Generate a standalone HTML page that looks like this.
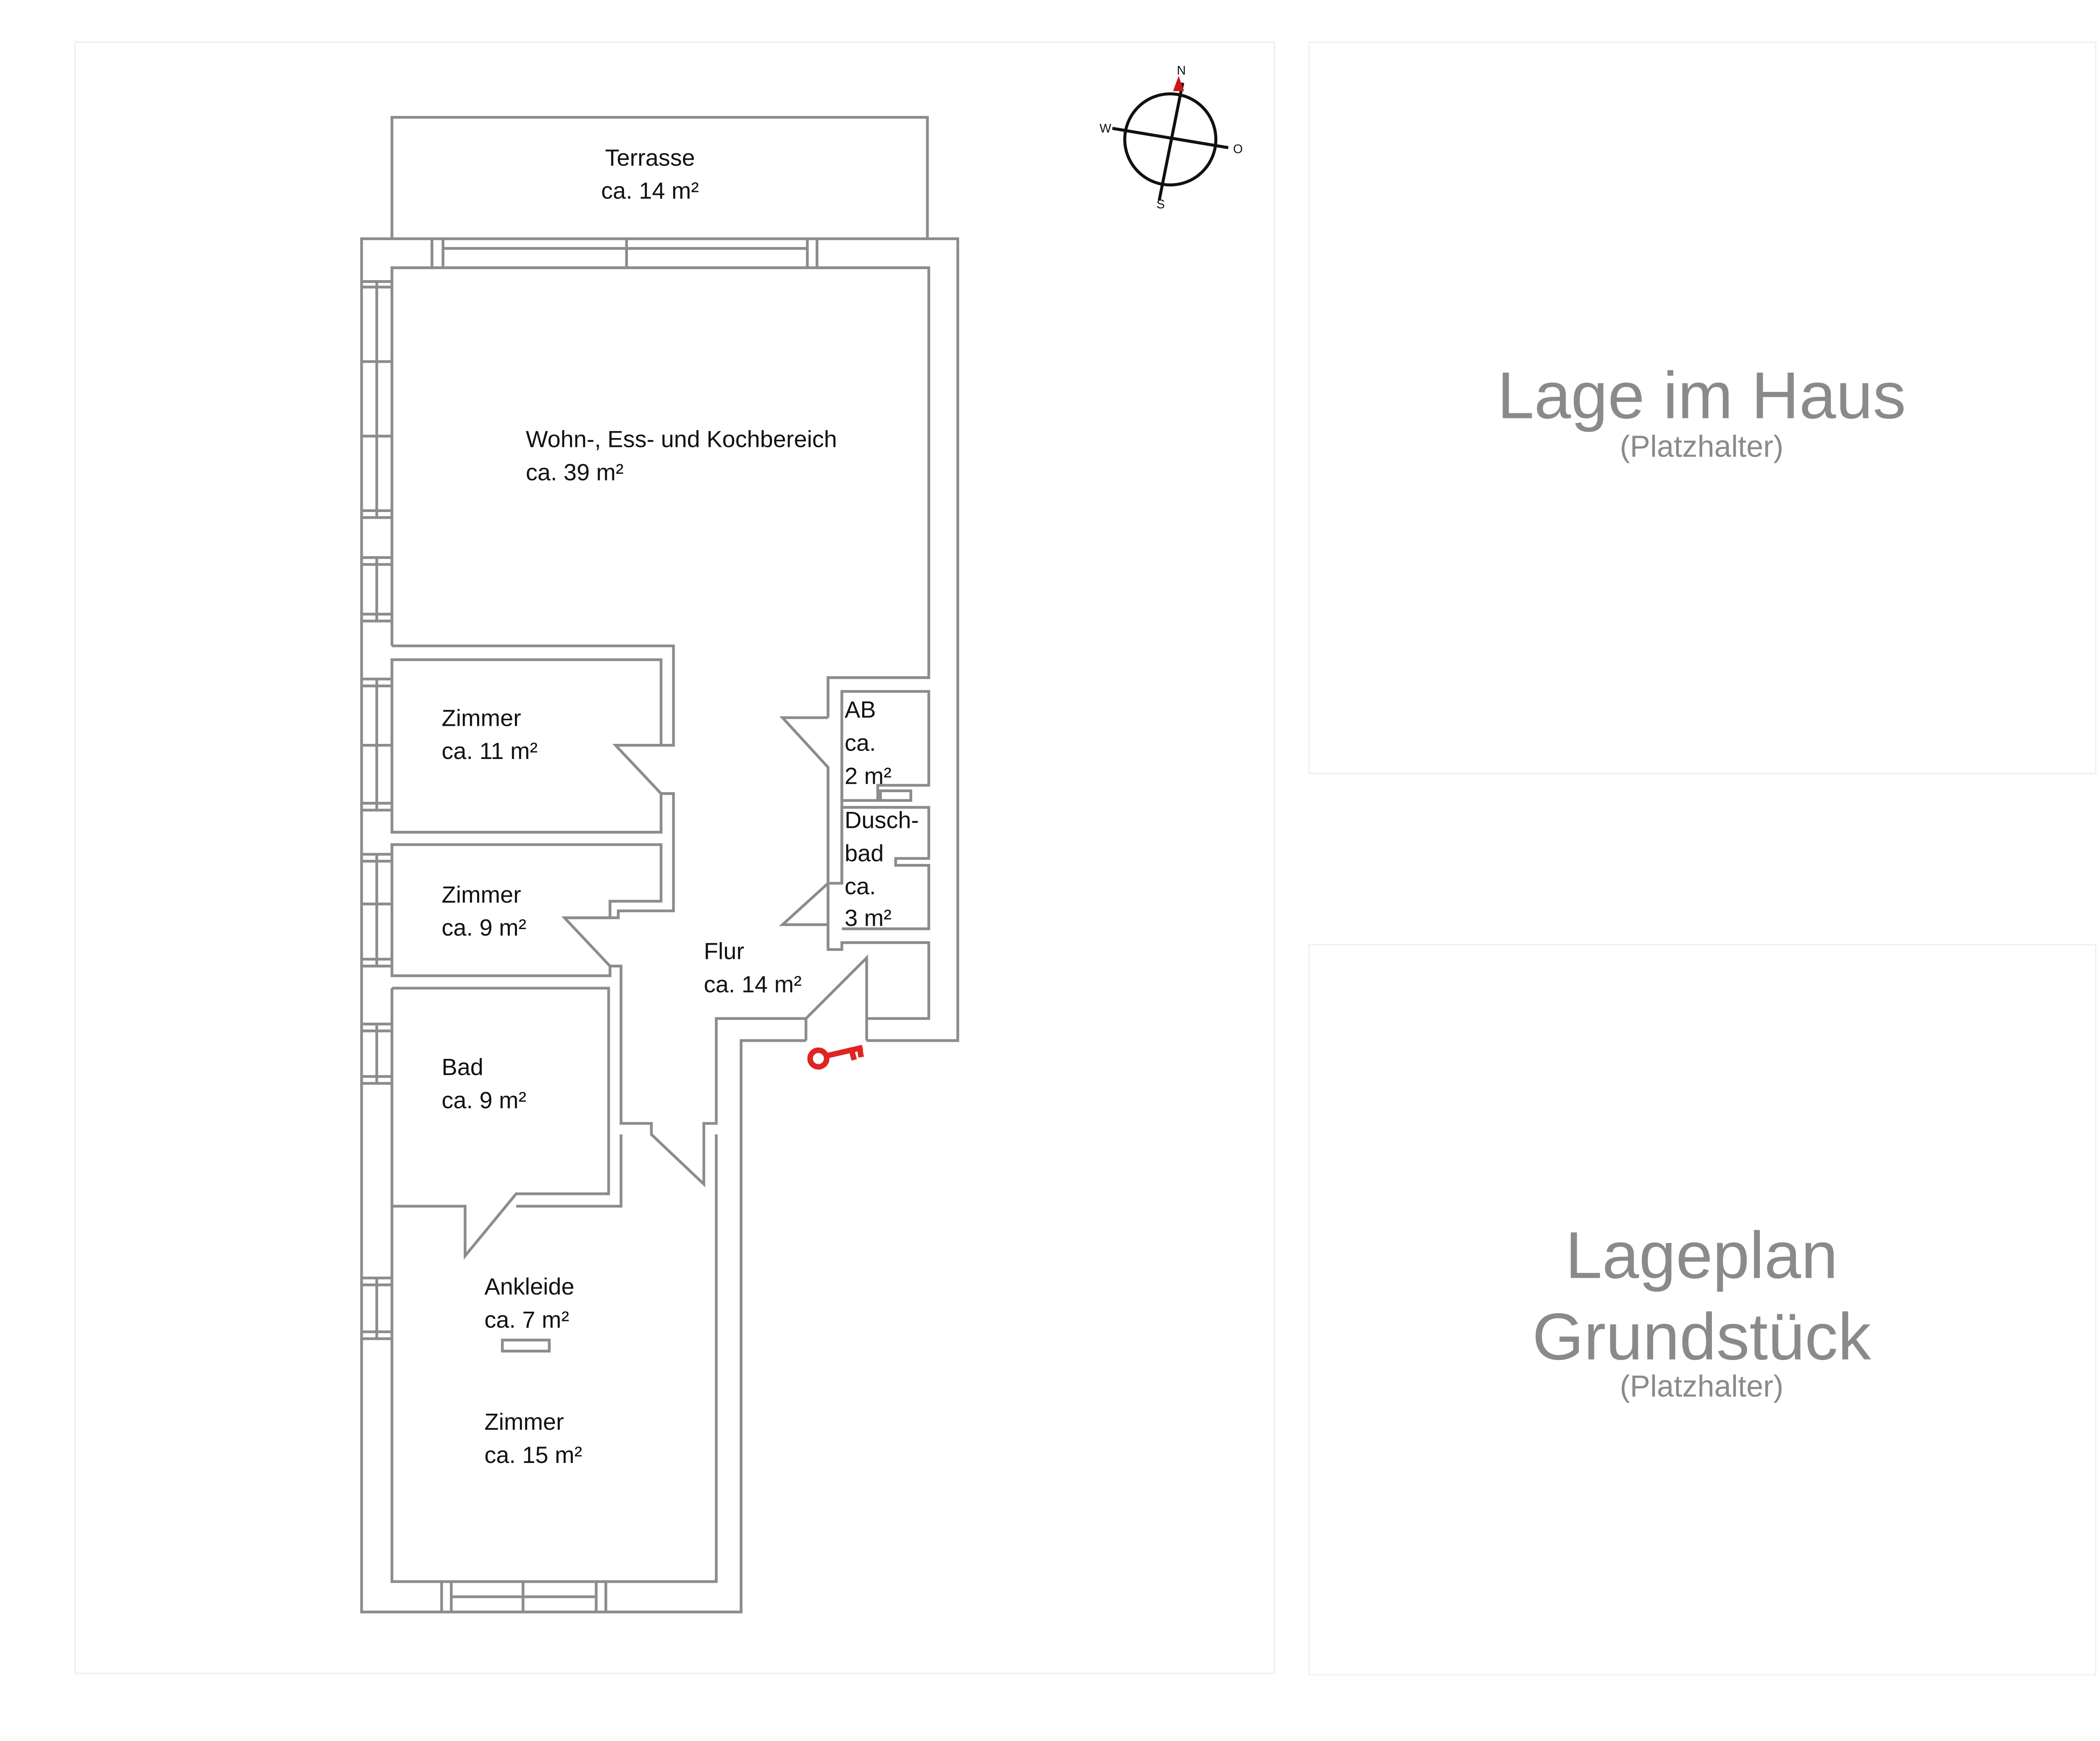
<!DOCTYPE html>
<html><head><meta charset="utf-8"><style>
html,body{margin:0;padding:0;background:#fff;width:5126px;height:4145px;overflow:hidden}
svg{display:block}
text{font-family:"Liberation Sans","DejaVu Sans",sans-serif}
</style></head><body>
<svg width="5126" height="4145" viewBox="0 0 1560 1261.5" preserveAspectRatio="none">
<rect x="0" y="0" width="1560" height="1262" fill="#fff"/>
<!-- panels -->
<rect x="54.5" y="30.5" width="869" height="1182" fill="none" stroke="#eeeeee" stroke-width="1"/>
<rect x="948.5" y="30.5" width="570" height="530" fill="none" stroke="#f0f0f0" stroke-width="1"/>
<rect x="948.5" y="684.5" width="570" height="529" fill="none" stroke="#f0f0f0" stroke-width="1"/>

<g fill="none" stroke="#8c8c8c" stroke-width="2">
<!-- terrace -->
<polyline points="284,173 284,85 672,85 672,173"/>
<!-- outer wall -->
<polyline points="584,754 537,754 537,1168 262,1168 262,173 694,173 694,754 628,754"/>
<!-- top windows -->
<line x1="313" y1="173" x2="313" y2="194"/><line x1="321" y1="173" x2="321" y2="194"/>
<line x1="321" y1="180" x2="585" y2="180"/><line x1="454" y1="173" x2="454" y2="194"/>
<line x1="585" y1="173" x2="585" y2="194"/><line x1="592" y1="173" x2="592" y2="194"/>
<!-- living room inner -->
<polyline points="284,468 284,194 673,194 673,491 600,491 600,520"/>
<polyline points="284,468 488,468 488,540 446,540 479,575 488,575 488,660 448,660 448,665 409,665 442,700 450,700 450,814 472,814 472,822 510,858 510,814 519,814 519,738 584,738 584,754"/>
<!-- door key -->
<polyline points="584,738 628,694 628,754"/>
<polyline points="628,738 673,738 673,683 610,683 610,688 600,688 600,670"/>
<!-- Zimmer 11 -->
<polyline points="479,540 479,478 284,478 284,603 479,603 479,575"/>
<!-- Zimmer 9 -->
<polyline points="409,665 442,665 442,653 479,653 479,612 284,612 284,707 442,707 442,700"/>
<!-- Bad -->
<polyline points="284,716 441,716 441,865 374,865 337,910 337,874 284,874 284,716"/>
<!-- Ankleide/Zimmer15 -->
<polyline points="374,874 450,874 450,822"/>
<polyline points="284,874 284,1146 519,1146 519,822"/>
<rect x="364" y="971" width="34" height="8"/>
<!-- AB / Dusch -->
<polyline points="600,520 567,520 600,556 600,670 567,670 600,640 610,640 610,520"/>
<polyline points="610,520 610,501 673,501 673,569 636,569 636,580 610,580 610,556"/>
<rect x="638" y="573" width="22" height="7"/>
<polyline points="610,640 610,585 673,585 673,622 649,622 649,627 673,627 673,673 610,673"/>
<!-- left windows -->
<g>
<line x1="262" y1="204" x2="284" y2="204"/><line x1="262" y1="208" x2="284" y2="208"/><line x1="273" y1="204" x2="273" y2="375"/>
<line x1="262" y1="262" x2="284" y2="262"/><line x1="262" y1="316" x2="284" y2="316"/>
<line x1="262" y1="370" x2="284" y2="370"/><line x1="262" y1="375" x2="284" y2="375"/>
<line x1="262" y1="404" x2="284" y2="404"/><line x1="262" y1="409" x2="284" y2="409"/><line x1="273" y1="404" x2="273" y2="450"/>
<line x1="262" y1="445" x2="284" y2="445"/><line x1="262" y1="450" x2="284" y2="450"/>
<line x1="262" y1="492" x2="284" y2="492"/><line x1="262" y1="497" x2="284" y2="497"/><line x1="273" y1="492" x2="273" y2="587"/>
<line x1="262" y1="540" x2="284" y2="540"/><line x1="262" y1="582" x2="284" y2="582"/><line x1="262" y1="587" x2="284" y2="587"/>
<line x1="262" y1="619" x2="284" y2="619"/><line x1="262" y1="624" x2="284" y2="624"/><line x1="273" y1="619" x2="273" y2="700"/>
<line x1="262" y1="655" x2="284" y2="655"/><line x1="262" y1="695" x2="284" y2="695"/><line x1="262" y1="700" x2="284" y2="700"/>
<line x1="262" y1="742" x2="284" y2="742"/><line x1="262" y1="747" x2="284" y2="747"/><line x1="273" y1="742" x2="273" y2="785"/>
<line x1="262" y1="780" x2="284" y2="780"/><line x1="262" y1="785" x2="284" y2="785"/>
<line x1="262" y1="926" x2="284" y2="926"/><line x1="262" y1="931" x2="284" y2="931"/><line x1="273" y1="926" x2="273" y2="970"/>
<line x1="262" y1="965" x2="284" y2="965"/><line x1="262" y1="970" x2="284" y2="970"/>
</g>
<!-- bottom window -->
<line x1="320" y1="1146" x2="320" y2="1168"/><line x1="327" y1="1146" x2="327" y2="1168"/>
<line x1="327" y1="1157" x2="432" y2="1157"/><line x1="379" y1="1146" x2="379" y2="1168"/>
<line x1="432" y1="1146" x2="432" y2="1168"/><line x1="439" y1="1146" x2="439" y2="1168"/>
</g>

<!-- key -->
<g stroke="#e02424" stroke-width="4" fill="none">
<circle cx="593" cy="767" r="6"/>
<line x1="599" y1="765" x2="625" y2="759"/>
<line x1="617" y1="761" x2="619" y2="768"/><line x1="623" y1="760" x2="624" y2="766"/>
</g>

<!-- compass -->
<g stroke="#111" stroke-width="2.2" fill="none">
<circle cx="848" cy="101" r="33"/>
<line x1="857" y1="60" x2="840" y2="145"/>
<line x1="806" y1="93" x2="890" y2="107"/>
</g>
<polygon points="854,55 850,66 858,66" fill="#d0141a"/>
<g font-size="9" fill="#111" text-anchor="middle">
<text x="856" y="54">N</text><text x="801" y="96">W</text><text x="897" y="111">O</text><text x="841" y="151">S</text>
</g>

<!-- labels -->
<g font-size="17" fill="#111">
<text x="471" y="120" text-anchor="middle">Terrasse</text>
<text x="471" y="144" text-anchor="middle">ca. 14 m²</text>
<text x="381" y="324">Wohn-, Ess- und Kochbereich</text>
<text x="381" y="348">ca. 39 m²</text>
<text x="320" y="526">Zimmer</text><text x="320" y="550">ca. 11 m²</text>
<text x="320" y="654">Zimmer</text><text x="320" y="678">ca. 9 m²</text>
<text x="320" y="779">Bad</text><text x="320" y="803">ca. 9 m²</text>
<text x="351" y="938">Ankleide</text><text x="351" y="962">ca. 7 m²</text>
<text x="351" y="1036">Zimmer</text><text x="351" y="1060">ca. 15 m²</text>
<text x="510" y="695">Flur</text><text x="510" y="719">ca. 14 m²</text>
<text x="612" y="520">AB</text><text x="612" y="544">ca.</text><text x="612" y="568">2 m²</text>
<text x="612" y="600">Dusch-</text><text x="612" y="624">bad</text><text x="612" y="648">ca.</text><text x="612" y="671">3 m²</text>
</g>

<g fill="#8a8a8a" text-anchor="middle">
<text x="1233" y="303" font-size="48">Lage im Haus</text>
<text x="1233" y="331" font-size="22">(Platzhalter)</text>
<text x="1233" y="926" font-size="48">Lageplan</text>
<text x="1233" y="985" font-size="48">Grundstück</text>
<text x="1233" y="1012" font-size="22">(Platzhalter)</text>
</g>
</svg>
</body></html>
